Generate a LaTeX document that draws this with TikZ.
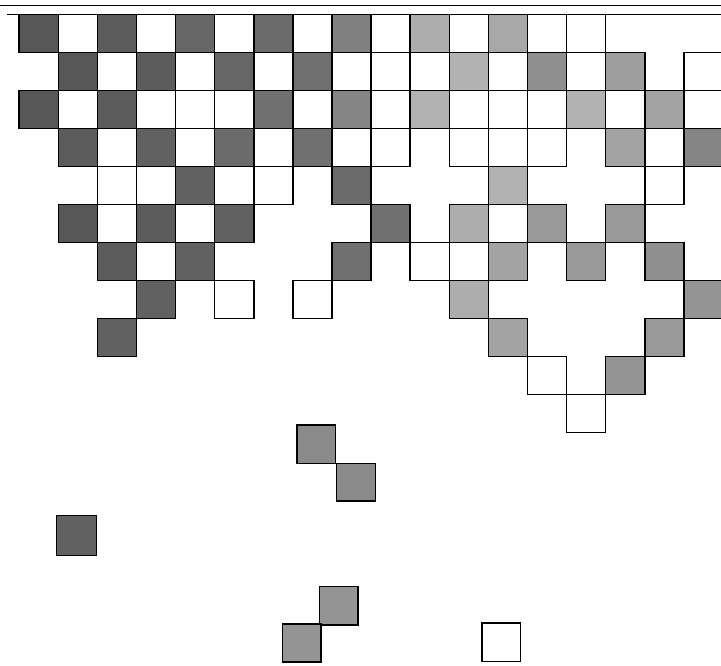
\documentclass[tikz,border=0pt]{standalone}
\begin{document}
\begin{tikzpicture}[x=1pt,y=-1pt,
  cellbox/.style={draw=black,line width=1.5pt,line join=miter},
  rule/.style={draw=black}]
\useasboundingbox (0,0) rectangle (721,665);
\clip (0,0) rectangle (721,665);
\fill[white] (0,0) rectangle (721,665);
% top rules
\draw[rule,line width=0.8pt] (0,5) -- (721,5);
\draw[rule,line width=1.2pt] (7,14.5) -- (721,14.5);
% white cells
\foreach \c/\r in {1/0,3/0,5/0,7/0,9/0,11/0,13/0,14/0,
  2/1,4/1,6/1,8/1,9/1,10/1,12/1,14/1,17/1,
  1/2,3/2,4/2,5/2,7/2,9/2,11/2,12/2,13/2,15/2,17/2,
  2/3,4/3,6/3,8/3,9/3,11/3,12/3,13/3,16/3,
  2/4,3/4,5/4,6/4,16/4,
  2/5,4/5,12/5,
  3/6,10/6,11/6,
  5/7,7/7,
  13/9,14/10}
  \filldraw[cellbox,fill=white] ({19.2+39.1*\c},{14.5+38*\r}) rectangle ++(39.1,38);
% shaded cells: column/row/percent black
\foreach \c/\r/\s in {0/0/66,2/0/64,4/0/60,6/0/58,8/0/50,10/0/32,12/0/34,
  1/1/66,3/1/64,5/1/60,7/1/56,11/1/30,13/1/44,15/1/38,
  0/2/66,2/2/64,6/2/56,8/2/48,10/2/30,14/2/30,16/2/36,
  1/3/64,3/3/62,5/3/58,7/3/56,15/3/36,17/3/48,
  4/4/62,8/4/58,12/4/30,
  1/5/66,3/5/64,5/5/62,9/5/56,11/5/32,13/5/40,15/5/40,
  2/6/64,4/6/62,8/6/56,12/6/36,14/6/40,16/6/44,
  3/7/62,11/7/32,17/7/42,
  2/8/62,12/8/36,16/8/40,
  15/9/42}
  \filldraw[cellbox,fill=black!\s] ({19.2+39.1*\c},{14.5+38*\r}) rectangle ++(39.1,38);
% isolated squares
\filldraw[cellbox,fill=black!46] (297,425) rectangle (335.5,463.3);
\filldraw[cellbox,fill=black!46] (336.7,463.3) rectangle (375.5,501);
\filldraw[cellbox,fill=black!62] (56.5,515.5) rectangle (96.5,555.5);
\filldraw[cellbox,fill=black!42] (319.5,586.5) rectangle (358,625);
\filldraw[cellbox,fill=black!42] (282.5,624) rectangle (321,662);
\filldraw[cellbox,fill=white] (482,623) rectangle (520.7,661.7);
\end{tikzpicture}
\end{document}
